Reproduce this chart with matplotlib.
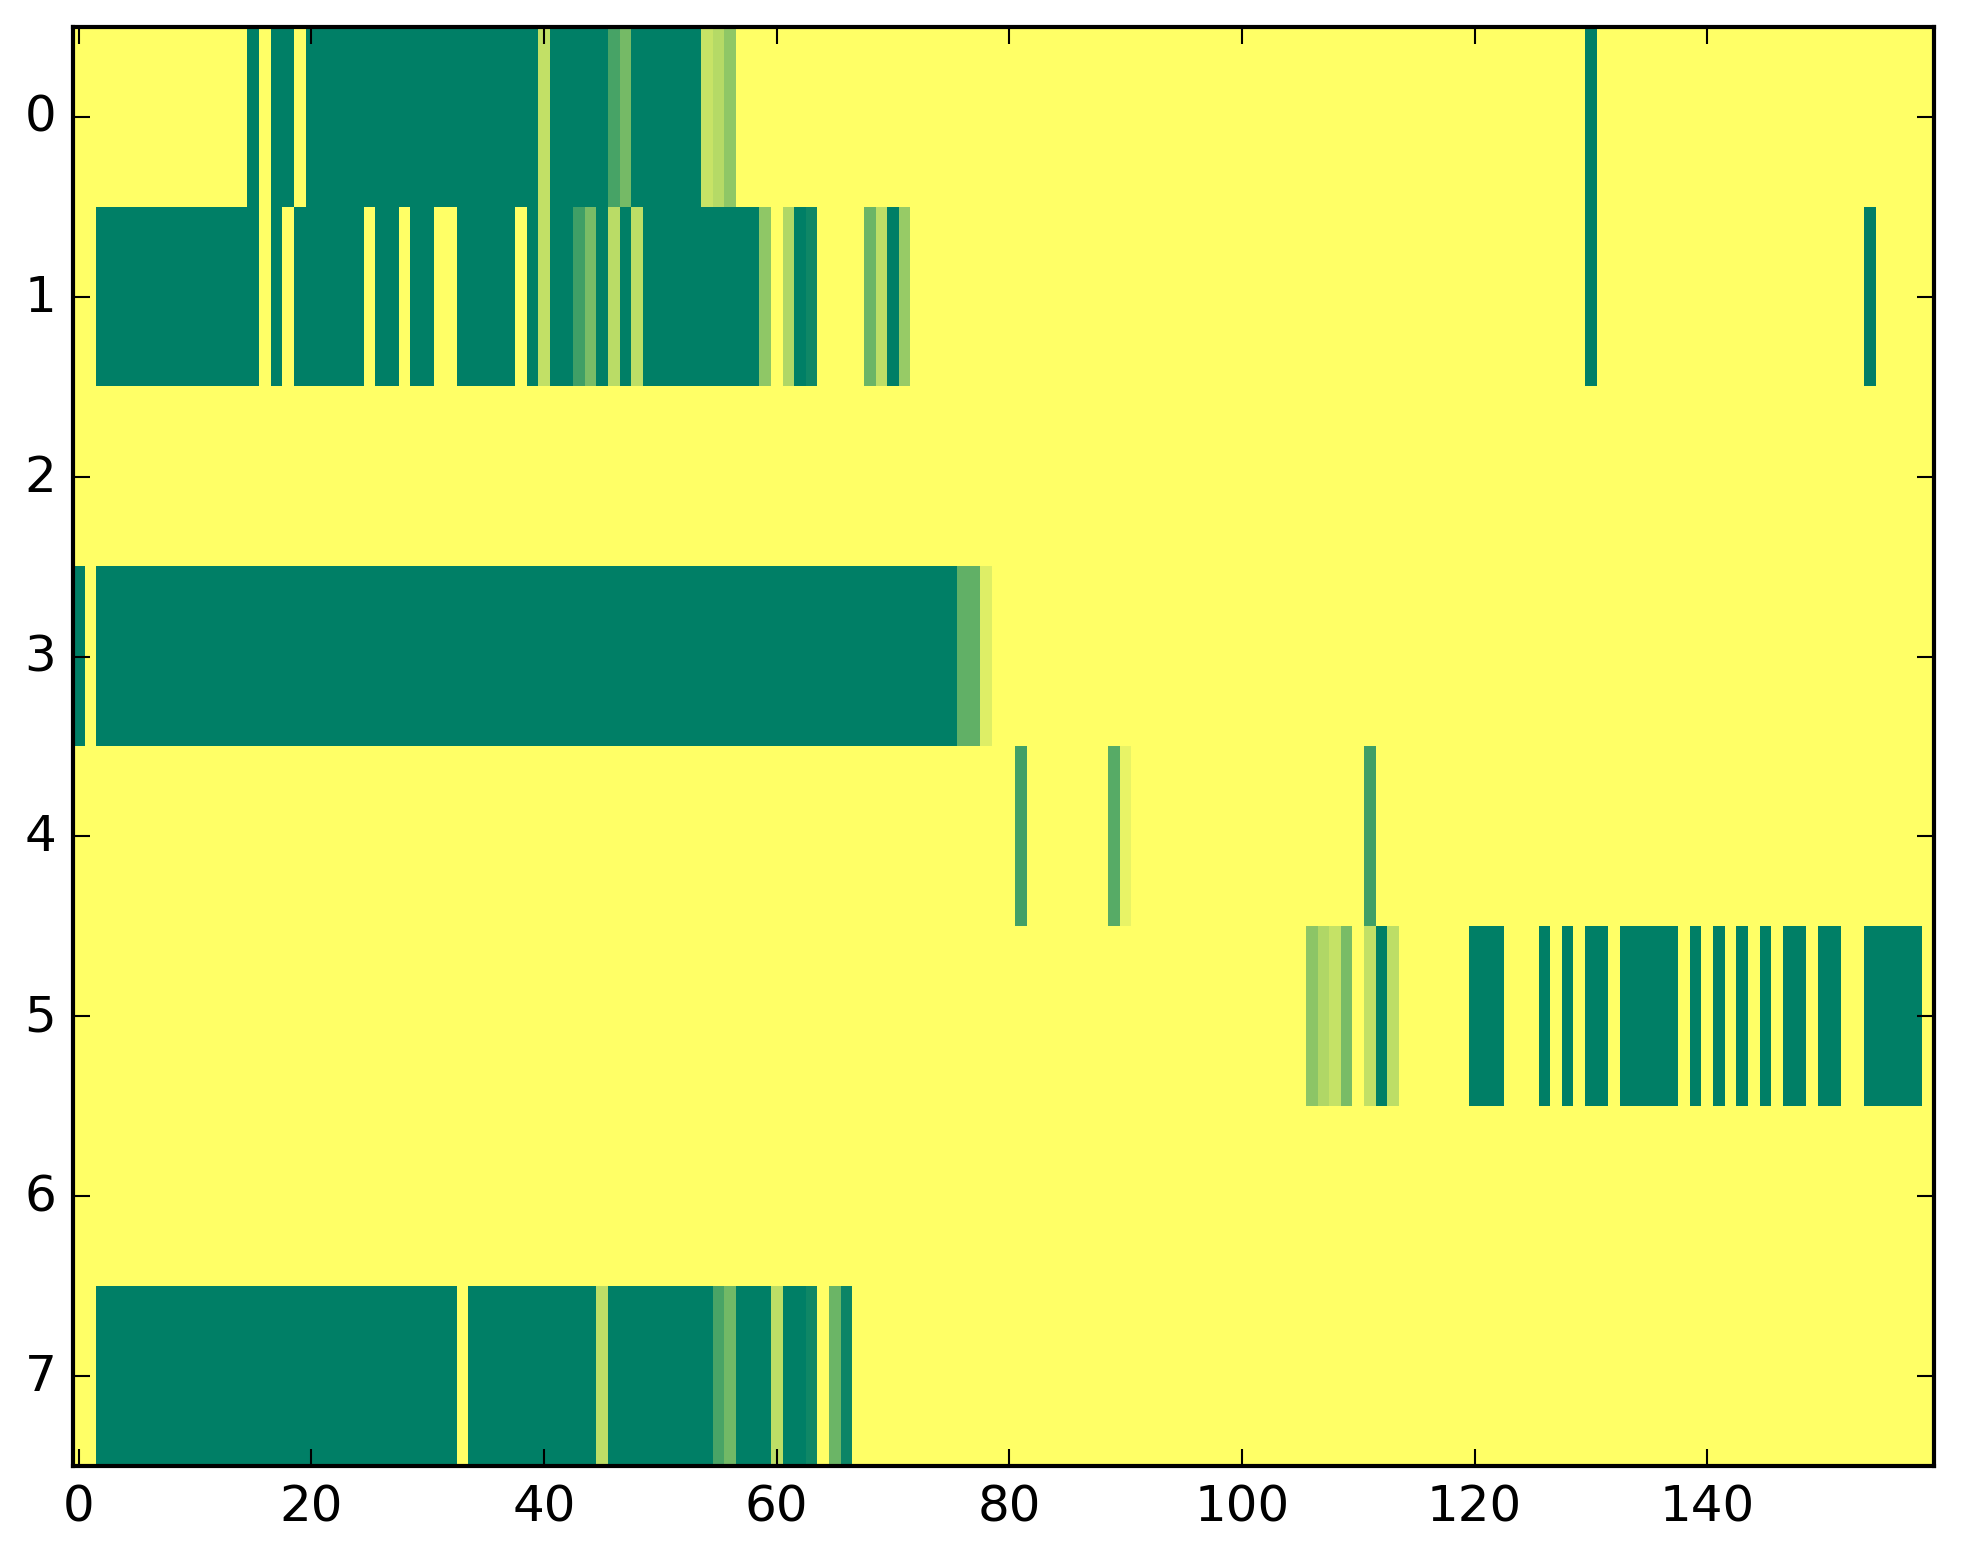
import numpy as np
import matplotlib
matplotlib.use("Agg")
import matplotlib.pyplot as plt

plt.style.use("classic")

n_rows = 8
n_cols = 160

# Runs of non-zero cells per row: (first column, last column, value)
row0_runs = [(15, 15, 1), (17, 18, 1), (20, 39, 1), (40, 40, 0.24), (41, 45, 1),
             (46, 46, 0.72), (47, 47, 0.54), (48, 53, 1), (54, 54, 0.22),
             (55, 55, 0.29), (56, 56, 0.44), (130, 130, 1)]
row1_runs = [(2, 15, 1), (17, 17, 1), (19, 24, 1), (26, 27, 1), (29, 30, 1),
             (33, 37, 1), (39, 39, 1), (40, 40, 0.24), (41, 42, 1), (43, 43, 0.75),
             (44, 44, 0.52), (45, 45, 1), (46, 46, 0.27), (47, 47, 1), (48, 48, 0.26),
             (49, 58, 1), (59, 59, 0.44), (61, 61, 0.31), (62, 62, 1), (63, 63, 0.94),
             (68, 68, 0.58), (69, 69, 0.26), (70, 70, 1), (71, 71, 0.41),
             (130, 130, 1), (154, 154, 1)]
row2_runs = []
row3_runs = [(0, 0, 1), (2, 75, 1), (76, 77, 0.62), (78, 78, 0.13)]
row4_runs = [(81, 81, 0.74), (89, 89, 0.66), (90, 90, 0.09), (111, 111, 0.75)]
row5_runs = [(106, 106, 0.45), (107, 107, 0.31), (108, 108, 0.23), (109, 109, 0.52),
             (111, 111, 0.24), (112, 112, 1), (113, 113, 0.26), (120, 122, 1),
             (126, 126, 1), (128, 128, 1), (130, 131, 1), (133, 137, 1),
             (139, 139, 1), (141, 141, 1), (143, 143, 1), (145, 145, 1),
             (147, 148, 1), (150, 151, 1), (154, 158, 1)]
row6_runs = []
row7_runs = [(2, 32, 1), (34, 44, 1), (45, 45, 0.26), (46, 54, 1), (55, 55, 0.71),
             (56, 56, 0.55), (57, 59, 1), (60, 60, 0.26), (61, 62, 1), (63, 63, 0.94),
             (65, 65, 0.58), (66, 66, 0.95)]

all_runs = [row0_runs, row1_runs, row2_runs, row3_runs,
            row4_runs, row5_runs, row6_runs, row7_runs]

data = np.zeros((n_rows, n_cols))
for r, runs in enumerate(all_runs):
    for a, b, v in runs:
        data[r, a:b + 1] = v

W, H, DPI = 1963, 1564, 300
fig = plt.figure(figsize=(W / DPI, H / DPI), dpi=DPI, facecolor="white")
ax = fig.add_axes([73 / W, (H - 1467) / H, (1934 - 73) / W, (1467 - 28) / H])
ax.imshow(data, cmap="summer_r", vmin=0, vmax=1, aspect="auto",
          interpolation="nearest")
ax.set_xlim(-0.5, n_cols - 0.5)
ax.set_ylim(n_rows - 0.5, -0.5)
ax.set_xticks(np.arange(0, 141, 20))
ax.set_yticks(np.arange(0, 8))
fig.savefig("out.png", dpi=DPI, facecolor="white")
